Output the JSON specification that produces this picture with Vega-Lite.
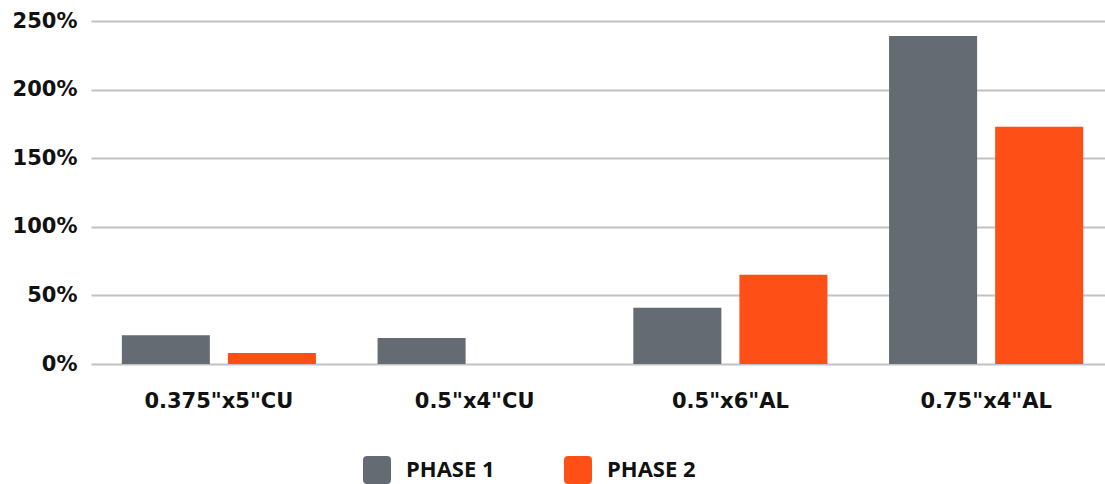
{
  "$schema": "https://vega.github.io/schema/vega-lite/v6.json",
  "width": 1023,
  "height": 343,
  "autosize": {"type": "none"},
  "padding": {"left": 91, "top": 21, "right": -9, "bottom": 120},
  "background": "white",
  "config": {
    "view": {"stroke": null},
    "font": "DejaVu Sans"
  },
  "data": {
    "values": [
      {"size": "0.375\"x5\"CU", "phase": "PHASE 1", "value": 0.21},
      {"size": "0.375\"x5\"CU", "phase": "PHASE 2", "value": 0.08},
      {"size": "0.5\"x4\"CU", "phase": "PHASE 1", "value": 0.19},
      {"size": "0.5\"x4\"CU", "phase": "PHASE 2", "value": 0},
      {"size": "0.5\"x6\"AL", "phase": "PHASE 1", "value": 0.41},
      {"size": "0.5\"x6\"AL", "phase": "PHASE 2", "value": 0.65},
      {"size": "0.75\"x4\"AL", "phase": "PHASE 1", "value": 2.39},
      {"size": "0.75\"x4\"AL", "phase": "PHASE 2", "value": 1.73}
    ]
  },
  "mark": {"type": "bar"},
  "encoding": {
    "x": {
      "field": "size",
      "type": "nominal",
      "sort": null,
      "scale": {"paddingInner": 0.241, "paddingOuter": 0.1205},
      "axis": {
        "title": null,
        "labelAngle": 0,
        "domain": false,
        "ticks": false,
        "labelPadding": 26,
        "labelFontSize": 21,
        "labelFontWeight": "bold",
        "labelColor": "#111111",
        "labelFont": "DejaVu Sans"
      }
    },
    "xOffset": {
      "field": "phase",
      "type": "nominal",
      "scale": {"paddingInner": 0.17}
    },
    "y": {
      "field": "value",
      "type": "quantitative",
      "scale": {"domain": [0, 2.5], "nice": false},
      "axis": {
        "title": null,
        "format": ".0%",
        "values": [0, 0.5, 1, 1.5, 2, 2.5],
        "domain": false,
        "ticks": false,
        "labelPadding": 14,
        "labelFontSize": 21,
        "labelFontWeight": "bold",
        "labelColor": "#111111",
        "labelFont": "DejaVu Sans",
        "gridColor": "#c2c2c2",
        "gridWidth": 2
      }
    },
    "color": {
      "field": "phase",
      "type": "nominal",
      "scale": {"domain": ["PHASE 1", "PHASE 2"], "range": ["#646b73", "#fe5016"]},
      "legend": {
        "title": null,
        "orient": "none",
        "direction": "horizontal",
        "legendX": 272,
        "legendY": 435,
        "symbolType": "M -0.7 -1 L 0.7 -1 Q 1 -1 1 -0.7 L 1 0.7 Q 1 1 0.7 1 L -0.7 1 Q -1 1 -1 0.7 L -1 -0.7 Q -1 -1 -0.7 -1 Z",
        "symbolSize": 784,
        "symbolStrokeWidth": 0,
        "symbolOpacity": 1,
        "labelFontSize": 22,
        "labelFontWeight": "bold",
        "labelColor": "#111111",
        "labelFont": "Open Sans",
        "labelOffset": 15,
        "columnPadding": 69
      }
    }
  }
}
